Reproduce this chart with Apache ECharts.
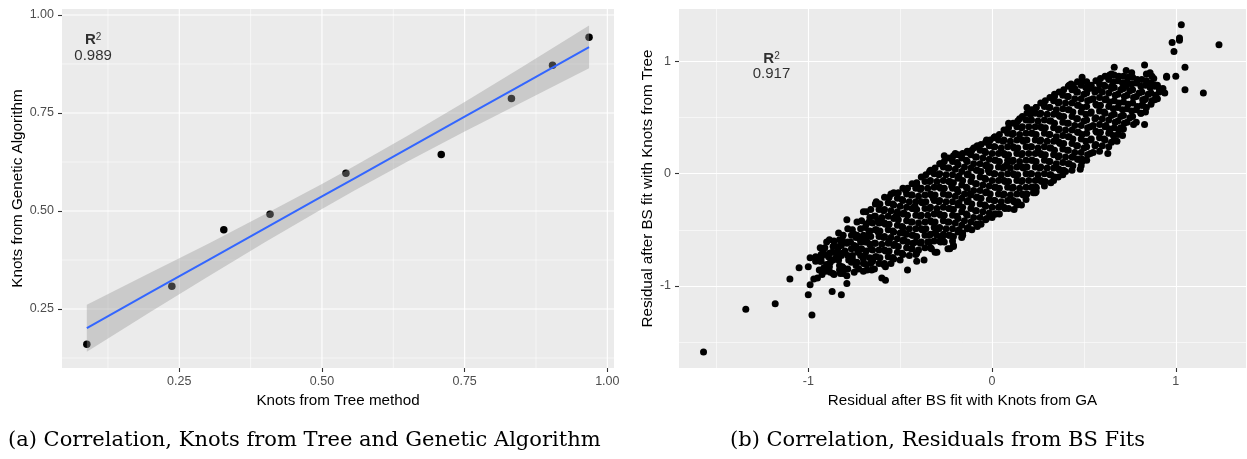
<!DOCTYPE html>
<html>
<head>
<meta charset="utf-8">
<script src="https://cdn.jsdelivr.net/npm/echarts@6/dist/echarts.min.js"></script>
<style>
  html, body { margin: 0; padding: 0; background: #ffffff; }
  #chart { width: 1247px; height: 459px; }
</style>
</head>
<body>
<div id="chart"></div>
<script>
// ---- Panel (a): knot positions, tree method vs genetic algorithm ----
const knotsTree = [0.088, 0.237, 0.328, 0.409, 0.542, 0.709, 0.832, 0.904, 0.968];
const knotsGA   = [0.160, 0.308, 0.452, 0.492, 0.596, 0.644, 0.787, 0.872, 0.943];

// linear fit with its 95% confidence band
const fitX     = [0.088, 0.20, 0.30, 0.40, 0.50, 0.557, 0.65, 0.75, 0.85, 0.968];
const fitY     = [0.2015, 0.2928, 0.3742, 0.4556, 0.537, 0.5834, 0.6591, 0.7405, 0.8219, 0.918];
const fitLower = [0.141, 0.243, 0.332, 0.420, 0.505, 0.552, 0.626, 0.703, 0.777, 0.864];
const fitUpper = [0.261, 0.343, 0.416, 0.492, 0.569, 0.615, 0.692, 0.778, 0.867, 0.973];

const r2Labels = ['0.989', '0.917'];

// tick / grid values
const knotMajor  = [0.25, 0.50, 0.75, 1.00];
const knotMinor  = [0.125, 0.375, 0.625, 0.875];
const residMajor = [-1, 0, 1];
const residMinor = [-1.5, -0.5, 0.5];

// ---- Panel (b): residuals after B-spline fits ----
const residTail = [
  [-1.57,-1.59],[-1.34,-1.21],[-1.18,-1.16],[-0.98,-1.26],[-1.10,-0.94],[-1.00,-1.08],[-0.99,-0.99],
  [-0.97,-0.94],[-1.05,-0.84],[-1.00,-0.83],[-0.99,-0.75],[-0.96,-0.74],[-0.93,-0.75],[-0.93,-0.78],
  [-0.90,-0.61],[-0.905,-0.87],[-0.87,-1.05],[-0.82,-1.08],[-0.88,-0.79],[-0.87,-0.70],[-0.86,-0.64],
  [-0.83,-0.59],[-0.82,-0.64],[-0.79,-0.41],[-0.83,-0.86],[-0.81,-0.89],[-0.79,-0.98],[-0.76,-0.73],
  [-0.75,-0.54],[-0.74,-0.65],[-0.70,-0.34],[-0.70,-0.76],[-0.69,-0.61],[-0.70,-0.87],[-0.66,-0.67],
  [-0.655,-0.86],[-0.65,-0.78],[-0.63,-0.26],[-0.60,-0.93],[-0.58,-0.95],[-0.58,-0.83],[-0.54,-0.75],
  [-0.56,-0.60],[-0.62,-0.52],[-0.59,-0.44],[-0.67,-0.52],[-0.67,-0.43],[-0.46,-0.86],[-0.41,-0.78],
  [-0.37,-0.77],[-0.52,-0.37],[-0.48,-0.53],[-0.43,-0.62],[-0.41,-0.71],[-0.34,-0.61],[-0.31,-0.53],
  [-0.24,-0.67],[-0.30,-0.70],[-0.23,-0.67],[-0.21,-0.64],[-0.16,-0.55],[-0.11,-0.50],[-0.08,-0.47],
  [-0.06,-0.45],[0.00,-0.39],[0.04,-0.36],[0.09,-0.31],[0.12,-0.32],[0.16,-0.28],[0.225,-0.17],
  [0.24,-0.12],[0.32,-0.08],[0.36,-0.03],[0.40,0.02],[0.48,0.04],[0.49,0.13],[0.44,0.15],[0.63,0.18],
  [0.68,0.29],[0.70,0.41],[0.64,0.38],[0.81,0.54],[0.83,0.44],[0.24,-0.16],[-0.21,-0.65],[-0.27,-0.57],
  [-0.31,-0.70]
];
const residUpper = [
  [-0.63,-0.25],[-0.55,-0.18],[-0.47,-0.15],[-0.41,-0.10],[-0.34,0.02],[-0.28,0.09],[-0.20,0.18],
  [-0.13,0.19],[-0.08,0.25],[0.01,0.32],[-0.03,0.30],[-0.10,0.23],[-0.26,0.16],[0.09,0.45],[0.15,0.49],
  [0.21,0.53],[0.19,0.59],[0.24,0.59],[0.34,0.71],[0.42,0.79],[0.43,0.80],[0.45,0.76],[0.49,0.86],
  [0.53,0.76],[0.56,0.75],[0.58,0.75],[0.65,0.89],[0.665,0.95],[0.65,0.78],[0.71,0.76],[0.73,0.92],
  [0.73,0.78],[0.76,0.90],[0.79,0.83],[0.83,0.97],[0.84,0.89],[0.86,0.90],[0.87,0.87],[0.88,0.85],
  [0.90,0.79],[0.91,0.76],[0.93,0.76],[0.94,0.72],[0.89,0.70],[0.95,0.86],[0.95,0.87],[1.00,0.87],
  [1.05,0.95],[1.05,0.75],[1.15,0.72],[1.235,1.15],[1.03,1.33],[1.02,1.21],[1.02,1.19],[0.98,1.17],
  [0.99,1.09],[0.83,0.66],[0.82,0.61]
];
const residCore = [
  [-0.96,-0.78],[-0.94,-0.86],[-0.95,-0.93],[-0.93,-0.72],
  [-0.91,-0.66],[-0.89,-0.74],[-0.90,-0.81],[-0.88,-0.88],[-0.92,-0.70],
  [-0.86,-0.60],[-0.84,-0.67],[-0.85,-0.75],[-0.83,-0.82],[-0.86,-0.90],[-0.84,-0.71],
  [-0.81,-0.55],[-0.79,-0.62],[-0.80,-0.69],[-0.78,-0.77],[-0.81,-0.84],[-0.79,-0.91],[-0.82,-0.73],
  [-0.76,-0.50],[-0.74,-0.57],[-0.75,-0.64],[-0.73,-0.70],[-0.76,-0.76],[-0.74,-0.82],[-0.75,-0.88],[-0.77,-0.61],
  [-0.71,-0.42],[-0.69,-0.48],[-0.70,-0.55],[-0.68,-0.61],[-0.71,-0.67],[-0.69,-0.73],[-0.70,-0.80],[-0.68,-0.86],[-0.72,-0.58],
  [-0.66,-0.32],[-0.64,-0.38],[-0.65,-0.44],[-0.63,-0.50],[-0.66,-0.56],[-0.64,-0.62],[-0.65,-0.68],[-0.63,-0.74],[-0.66,-0.80],[-0.64,-0.85],
  [-0.61,-0.27],[-0.59,-0.33],[-0.60,-0.39],[-0.58,-0.45],[-0.61,-0.51],[-0.59,-0.57],[-0.60,-0.63],[-0.58,-0.69],[-0.61,-0.75],[-0.59,-0.81],[-0.62,-0.42],
  [-0.56,-0.21],[-0.54,-0.27],[-0.55,-0.33],[-0.53,-0.39],[-0.56,-0.45],[-0.54,-0.51],[-0.55,-0.57],[-0.53,-0.63],[-0.56,-0.69],[-0.54,-0.75],[-0.55,-0.80],
  [-0.51,-0.17],[-0.49,-0.23],[-0.50,-0.29],[-0.48,-0.35],[-0.51,-0.41],[-0.49,-0.47],[-0.50,-0.53],[-0.48,-0.59],[-0.51,-0.65],[-0.49,-0.71],[-0.50,-0.77],[-0.52,-0.38],
  [-0.46,-0.13],[-0.44,-0.19],[-0.45,-0.25],[-0.43,-0.31],[-0.46,-0.37],[-0.44,-0.43],[-0.45,-0.49],[-0.43,-0.55],[-0.46,-0.61],[-0.44,-0.67],[-0.45,-0.73],
  [-0.41,-0.08],[-0.39,-0.14],[-0.40,-0.20],[-0.38,-0.26],[-0.41,-0.32],[-0.39,-0.38],[-0.40,-0.44],[-0.38,-0.50],[-0.41,-0.56],[-0.39,-0.62],[-0.40,-0.68],[-0.42,-0.29],
  [-0.36,-0.01],[-0.34,-0.07],[-0.35,-0.13],[-0.33,-0.19],[-0.36,-0.25],[-0.34,-0.31],[-0.35,-0.37],[-0.33,-0.43],[-0.36,-0.49],[-0.34,-0.55],[-0.35,-0.61],[-0.33,-0.67],
  [-0.31,0.05],[-0.29,-0.01],[-0.30,-0.07],[-0.28,-0.13],[-0.31,-0.19],[-0.29,-0.25],[-0.30,-0.31],[-0.28,-0.37],[-0.31,-0.43],[-0.29,-0.49],[-0.30,-0.55],[-0.28,-0.61],[-0.32,-0.22],
  [-0.26,0.11],[-0.24,0.05],[-0.25,-0.01],[-0.23,-0.07],[-0.26,-0.13],[-0.24,-0.19],[-0.25,-0.25],[-0.23,-0.31],[-0.26,-0.37],[-0.24,-0.43],[-0.25,-0.49],[-0.23,-0.55],[-0.26,-0.61],
  [-0.21,0.16],[-0.19,0.10],[-0.20,0.04],[-0.18,-0.02],[-0.21,-0.08],[-0.19,-0.14],[-0.20,-0.20],[-0.18,-0.26],[-0.21,-0.32],[-0.19,-0.38],[-0.20,-0.44],[-0.18,-0.50],[-0.21,-0.56],[-0.22,-0.11],
  [-0.16,0.18],[-0.14,0.12],[-0.15,0.06],[-0.13,0.00],[-0.16,-0.06],[-0.14,-0.12],[-0.15,-0.18],[-0.13,-0.24],[-0.16,-0.30],[-0.14,-0.36],[-0.15,-0.42],[-0.13,-0.48],[-0.16,-0.53],
  [-0.11,0.21],[-0.09,0.15],[-0.10,0.09],[-0.08,0.03],[-0.11,-0.03],[-0.09,-0.09],[-0.10,-0.15],[-0.08,-0.21],[-0.11,-0.27],[-0.09,-0.33],[-0.10,-0.39],[-0.08,-0.45],[-0.12,-0.18],
  [-0.06,0.26],[-0.04,0.20],[-0.05,0.14],[-0.03,0.08],[-0.06,0.02],[-0.04,-0.04],[-0.05,-0.10],[-0.03,-0.16],[-0.06,-0.22],[-0.04,-0.28],[-0.05,-0.34],[-0.03,-0.40],
  [-0.01,0.30],[0.01,0.24],[0.00,0.18],[0.02,0.12],[-0.01,0.06],[0.01,0.00],[0.00,-0.06],[0.02,-0.12],[-0.01,-0.18],[0.01,-0.24],[0.00,-0.30],[0.02,-0.36],[-0.02,0.03],
  [0.04,0.35],[0.06,0.29],[0.05,0.23],[0.07,0.17],[0.04,0.11],[0.06,0.05],[0.05,-0.01],[0.07,-0.07],[0.04,-0.13],[0.06,-0.19],[0.05,-0.25],[0.07,-0.31],
  [0.09,0.41],[0.11,0.35],[0.10,0.29],[0.12,0.23],[0.09,0.17],[0.11,0.11],[0.10,0.05],[0.12,-0.01],[0.09,-0.07],[0.11,-0.13],[0.10,-0.19],[0.12,-0.25],[0.08,0.08],
  [0.14,0.47],[0.16,0.41],[0.15,0.35],[0.17,0.29],[0.14,0.23],[0.16,0.17],[0.15,0.11],[0.17,0.05],[0.14,-0.01],[0.16,-0.07],[0.15,-0.13],[0.17,-0.19],[0.14,-0.25],
  [0.19,0.54],[0.21,0.48],[0.20,0.42],[0.22,0.36],[0.19,0.30],[0.21,0.24],[0.20,0.18],[0.22,0.12],[0.19,0.06],[0.21,0.00],[0.20,-0.06],[0.22,-0.12],[0.19,-0.18],
  [0.24,0.59],[0.26,0.53],[0.25,0.47],[0.27,0.41],[0.24,0.35],[0.26,0.29],[0.25,0.23],[0.27,0.17],[0.24,0.11],[0.26,0.05],[0.25,-0.01],[0.27,-0.07],[0.24,-0.13],
  [0.29,0.65],[0.31,0.59],[0.30,0.53],[0.32,0.47],[0.29,0.41],[0.31,0.35],[0.30,0.29],[0.32,0.23],[0.29,0.17],[0.31,0.11],[0.30,0.05],[0.32,-0.01],[0.29,-0.07],
  [0.34,0.69],[0.36,0.63],[0.35,0.57],[0.37,0.51],[0.34,0.45],[0.36,0.39],[0.35,0.33],[0.37,0.27],[0.34,0.21],[0.36,0.15],[0.35,0.09],[0.37,0.03],[0.34,-0.03],
  [0.39,0.75],[0.41,0.69],[0.40,0.63],[0.42,0.57],[0.39,0.51],[0.41,0.45],[0.40,0.39],[0.42,0.33],[0.39,0.27],[0.41,0.21],[0.40,0.15],[0.42,0.09],[0.39,0.03],
  [0.44,0.79],[0.46,0.73],[0.45,0.67],[0.47,0.61],[0.44,0.55],[0.46,0.49],[0.45,0.43],[0.47,0.37],[0.44,0.31],[0.46,0.25],[0.45,0.19],[0.47,0.13],[0.44,0.07],
  [0.49,0.83],[0.51,0.77],[0.50,0.71],[0.52,0.65],[0.49,0.59],[0.51,0.53],[0.50,0.47],[0.52,0.41],[0.49,0.35],[0.51,0.29],[0.50,0.23],[0.52,0.17],[0.49,0.11],
  [0.54,0.79],[0.56,0.73],[0.55,0.67],[0.57,0.61],[0.54,0.55],[0.56,0.49],[0.55,0.43],[0.57,0.37],[0.54,0.31],[0.56,0.25],[0.55,0.19],
  [0.59,0.85],[0.61,0.79],[0.60,0.73],[0.62,0.67],[0.59,0.61],[0.61,0.55],[0.60,0.49],[0.62,0.43],[0.59,0.37],[0.61,0.31],[0.60,0.25],
  [0.64,0.88],[0.66,0.82],[0.65,0.76],[0.67,0.70],[0.64,0.64],[0.66,0.58],[0.65,0.52],[0.67,0.46],[0.64,0.40],[0.66,0.34],[0.65,0.28],
  [0.69,0.87],[0.71,0.81],[0.70,0.75],[0.72,0.69],[0.69,0.63],[0.71,0.57],[0.70,0.51],[0.72,0.45],[0.69,0.39],[0.71,0.34],
  [0.74,0.86],[0.76,0.80],[0.75,0.74],[0.77,0.68],[0.74,0.62],[0.76,0.56],[0.75,0.50],[0.77,0.44],
  [0.79,0.84],[0.81,0.78],[0.80,0.72],[0.82,0.66],[0.79,0.60],[0.81,0.54],
  [0.84,0.83],[0.86,0.77],[0.85,0.71],[0.87,0.65],[0.84,0.59],
  [0.89,0.79],[0.91,0.73],[0.90,0.67]
];
// second layer of the dense centre, sitting between the points above
const residCoreB = [
  [-0.935,-0.66],[-0.915,-0.72],[-0.935,-0.78],[-0.915,-0.84],[-0.925,-0.90],
  [-0.885,-0.59],[-0.865,-0.65],[-0.885,-0.71],[-0.865,-0.77],[-0.885,-0.83],[-0.865,-0.89],
  [-0.835,-0.53],[-0.815,-0.59],[-0.835,-0.65],[-0.815,-0.71],[-0.835,-0.77],[-0.815,-0.83],[-0.825,-0.89],
  [-0.785,-0.49],[-0.765,-0.55],[-0.785,-0.61],[-0.765,-0.67],[-0.785,-0.73],[-0.765,-0.79],[-0.785,-0.85],
  [-0.735,-0.43],[-0.715,-0.49],[-0.735,-0.55],[-0.715,-0.61],[-0.735,-0.67],[-0.715,-0.73],[-0.735,-0.79],[-0.725,-0.85],
  [-0.685,-0.34],[-0.665,-0.39],[-0.685,-0.45],[-0.665,-0.51],[-0.685,-0.57],[-0.665,-0.63],[-0.685,-0.69],[-0.665,-0.75],[-0.685,-0.81],
  [-0.635,-0.27],[-0.615,-0.32],[-0.635,-0.38],[-0.615,-0.44],[-0.635,-0.50],[-0.615,-0.56],[-0.635,-0.62],[-0.615,-0.68],[-0.635,-0.74],[-0.615,-0.80],
  [-0.585,-0.21],[-0.565,-0.26],[-0.585,-0.32],[-0.565,-0.38],[-0.585,-0.44],[-0.565,-0.50],[-0.585,-0.56],[-0.565,-0.62],[-0.585,-0.68],[-0.565,-0.74],[-0.585,-0.80],
  [-0.535,-0.17],[-0.515,-0.22],[-0.535,-0.28],[-0.515,-0.34],[-0.535,-0.40],[-0.515,-0.46],[-0.535,-0.52],[-0.515,-0.58],[-0.535,-0.64],[-0.515,-0.70],[-0.535,-0.76],
  [-0.485,-0.13],[-0.465,-0.18],[-0.485,-0.24],[-0.465,-0.30],[-0.485,-0.36],[-0.465,-0.42],[-0.485,-0.48],[-0.465,-0.54],[-0.485,-0.60],[-0.465,-0.66],[-0.485,-0.72],
  [-0.435,-0.09],[-0.415,-0.13],[-0.435,-0.19],[-0.415,-0.25],[-0.435,-0.31],[-0.415,-0.37],[-0.435,-0.43],[-0.415,-0.49],[-0.435,-0.55],[-0.415,-0.61],[-0.435,-0.67],[-0.415,-0.72],
  [-0.385,-0.03],[-0.365,-0.07],[-0.385,-0.13],[-0.365,-0.19],[-0.385,-0.25],[-0.365,-0.31],[-0.385,-0.37],[-0.365,-0.43],[-0.385,-0.49],[-0.365,-0.55],[-0.385,-0.61],[-0.365,-0.66],
  [-0.335,0.03],[-0.315,0.00],[-0.335,-0.06],[-0.315,-0.12],[-0.335,-0.18],[-0.315,-0.24],[-0.335,-0.30],[-0.315,-0.36],[-0.335,-0.42],[-0.315,-0.48],[-0.335,-0.54],[-0.315,-0.60],[-0.335,-0.66],
  [-0.285,0.09],[-0.265,0.06],[-0.285,0.00],[-0.265,-0.06],[-0.285,-0.12],[-0.265,-0.18],[-0.285,-0.24],[-0.265,-0.30],[-0.285,-0.36],[-0.265,-0.42],[-0.285,-0.48],[-0.265,-0.54],[-0.285,-0.60],
  [-0.235,0.14],[-0.215,0.11],[-0.235,0.05],[-0.215,-0.01],[-0.235,-0.07],[-0.215,-0.13],[-0.235,-0.19],[-0.215,-0.25],[-0.235,-0.31],[-0.215,-0.37],[-0.235,-0.43],[-0.215,-0.49],[-0.235,-0.55],[-0.215,-0.60],
  [-0.185,0.17],[-0.165,0.14],[-0.185,0.08],[-0.165,0.02],[-0.185,-0.04],[-0.165,-0.10],[-0.185,-0.16],[-0.165,-0.22],[-0.185,-0.28],[-0.165,-0.34],[-0.185,-0.40],[-0.165,-0.46],[-0.185,-0.52],[-0.165,-0.57],
  [-0.135,0.20],[-0.115,0.17],[-0.135,0.11],[-0.115,0.05],[-0.135,-0.01],[-0.115,-0.07],[-0.135,-0.13],[-0.115,-0.19],[-0.135,-0.25],[-0.115,-0.31],[-0.135,-0.37],[-0.115,-0.43],[-0.135,-0.49],
  [-0.085,0.24],[-0.065,0.21],[-0.085,0.15],[-0.065,0.09],[-0.085,0.03],[-0.065,-0.03],[-0.085,-0.09],[-0.065,-0.15],[-0.085,-0.21],[-0.065,-0.27],[-0.085,-0.33],[-0.065,-0.39],[-0.085,-0.45],
  [-0.035,0.28],[-0.015,0.25],[-0.035,0.19],[-0.015,0.13],[-0.035,0.07],[-0.015,0.01],[-0.035,-0.05],[-0.015,-0.11],[-0.035,-0.17],[-0.015,-0.23],[-0.035,-0.29],[-0.015,-0.35],[-0.035,-0.41],
  [0.015,0.33],[0.035,0.30],[0.015,0.24],[0.035,0.18],[0.015,0.12],[0.035,0.06],[0.015,0.00],[0.035,-0.06],[0.015,-0.12],[0.035,-0.18],[0.015,-0.24],[0.035,-0.30],[0.015,-0.36],
  [0.065,0.39],[0.085,0.36],[0.065,0.30],[0.085,0.24],[0.065,0.18],[0.085,0.12],[0.065,0.06],[0.085,0.00],[0.065,-0.06],[0.085,-0.12],[0.065,-0.18],[0.085,-0.24],[0.065,-0.30],
  [0.115,0.45],[0.135,0.42],[0.115,0.36],[0.135,0.30],[0.115,0.24],[0.135,0.18],[0.115,0.12],[0.135,0.06],[0.115,0.00],[0.135,-0.06],[0.115,-0.12],[0.135,-0.18],[0.115,-0.24],[0.135,-0.28],
  [0.165,0.51],[0.185,0.48],[0.165,0.42],[0.185,0.36],[0.165,0.30],[0.185,0.24],[0.165,0.18],[0.185,0.12],[0.165,0.06],[0.185,0.00],[0.165,-0.06],[0.185,-0.12],[0.165,-0.18],[0.185,-0.23],
  [0.215,0.57],[0.235,0.54],[0.215,0.48],[0.235,0.42],[0.215,0.36],[0.235,0.30],[0.215,0.24],[0.235,0.18],[0.215,0.12],[0.235,0.06],[0.215,0.00],[0.235,-0.06],[0.215,-0.12],[0.235,-0.17],
  [0.265,0.63],[0.285,0.60],[0.265,0.54],[0.285,0.48],[0.265,0.42],[0.285,0.36],[0.265,0.30],[0.285,0.24],[0.265,0.18],[0.285,0.12],[0.265,0.06],[0.285,0.00],[0.265,-0.06],[0.285,-0.11],
  [0.315,0.68],[0.335,0.65],[0.315,0.59],[0.335,0.53],[0.315,0.47],[0.335,0.41],[0.315,0.35],[0.335,0.29],[0.315,0.23],[0.335,0.17],[0.315,0.11],[0.335,0.05],[0.315,-0.01],[0.335,-0.06],
  [0.365,0.73],[0.385,0.70],[0.365,0.64],[0.385,0.58],[0.365,0.52],[0.385,0.46],[0.365,0.40],[0.385,0.34],[0.365,0.28],[0.385,0.22],[0.365,0.16],[0.385,0.10],[0.365,0.04],[0.385,-0.01],
  [0.415,0.78],[0.435,0.75],[0.415,0.69],[0.435,0.63],[0.415,0.57],[0.435,0.51],[0.415,0.45],[0.435,0.39],[0.415,0.33],[0.435,0.27],[0.415,0.21],[0.435,0.15],[0.415,0.09],[0.435,0.03],
  [0.465,0.82],[0.485,0.79],[0.465,0.73],[0.485,0.67],[0.465,0.61],[0.485,0.55],[0.465,0.49],[0.485,0.43],[0.465,0.37],[0.485,0.31],[0.465,0.25],[0.485,0.19],[0.465,0.13],[0.485,0.07],
  [0.515,0.82],[0.535,0.78],[0.515,0.72],[0.535,0.66],[0.515,0.60],[0.535,0.54],[0.515,0.48],[0.535,0.42],[0.515,0.36],[0.535,0.30],[0.515,0.24],[0.535,0.18],[0.515,0.12],
  [0.565,0.83],[0.585,0.80],[0.565,0.74],[0.585,0.68],[0.565,0.62],[0.585,0.56],[0.565,0.50],[0.585,0.44],[0.565,0.38],[0.585,0.32],[0.565,0.26],[0.585,0.20],
  [0.615,0.87],[0.635,0.84],[0.615,0.78],[0.635,0.72],[0.615,0.66],[0.635,0.60],[0.615,0.54],[0.635,0.48],[0.615,0.42],[0.635,0.36],[0.615,0.30],[0.635,0.24],
  [0.665,0.88],[0.685,0.83],[0.665,0.77],[0.685,0.71],[0.665,0.65],[0.685,0.59],[0.665,0.53],[0.685,0.47],[0.665,0.41],[0.685,0.35],[0.665,0.30],
  [0.715,0.87],[0.735,0.82],[0.715,0.76],[0.735,0.70],[0.715,0.64],[0.735,0.58],[0.715,0.52],[0.735,0.46],[0.715,0.40],
  [0.765,0.86],[0.785,0.81],[0.765,0.75],[0.785,0.69],[0.765,0.63],[0.785,0.57],[0.765,0.51],[0.785,0.46],
  [0.815,0.84],[0.835,0.79],[0.815,0.73],[0.835,0.67],[0.815,0.61],[0.835,0.55],
  [0.865,0.81],[0.885,0.78],[0.865,0.72],[0.885,0.66],[0.865,0.62]
];

// ---- styling ----
const SANS = "'Liberation Sans', Arial, Helvetica, sans-serif";
const SERIF = "'DejaVu Serif', serif";
const PANEL_BG = '#EBEBEB';
const TICK_COLOR = '#333333';
const LABEL_COLOR = '#4D4D4D';

// visible data windows of both panels
const knotXRange  = [0.0445, 1.0117];
const knotYRange  = [0.0995, 1.0153];
const residXRange = [-1.7035, 1.382];
const residYRange = [-1.7335, 1.4697];

// white gridlines of panel (a), one short line series per break value
function gridLines(axisIndex, xMajor, xMinor, yMajor, yMinor, xRange, yRange) {
  const out = [];
  const add = (data, major) => out.push({
    type: 'line', xAxisIndex: axisIndex, yAxisIndex: axisIndex, z: 1, silent: true,
    symbol: 'none', showSymbol: false, clip: false, animation: false,
    lineStyle: { color: '#FFFFFF', width: major ? 1.1 : 0.55 },
    data: data
  });
  xMinor.forEach(v => add([[v, yRange[0]], [v, yRange[1]]], false));
  yMinor.forEach(v => add([[xRange[0], v], [xRange[1], v]], false));
  xMajor.forEach(v => add([[v, yRange[0]], [v, yRange[1]]], true));
  yMajor.forEach(v => add([[xRange[0], v], [xRange[1], v]], true));
  return out;
}

function renderBand(params, api) {
  if (params.dataIndex !== 0) return null;
  const pts = [];
  for (let i = 0; i < fitX.length; i++) pts.push(api.coord([fitX[i], fitUpper[i]]));
  for (let i = fitX.length - 1; i >= 0; i--) pts.push(api.coord([fitX[i], fitLower[i]]));
  return {
    type: 'polygon',
    shape: { points: pts },
    style: { fill: 'rgba(153,153,153,0.4)' }
  };
}

function valueAxis(gridIndex, range, ticks, fmt, name, nameGap, isY, splitWidth) {
  return {
    type: 'value',
    gridIndex: gridIndex,
    min: range[0],
    max: range[1],
    axisLine: { show: false, onZero: false },
    axisTick: { show: true, length: 4, lineStyle: { color: TICK_COLOR, width: 1.1 }, customValues: ticks },
    axisLabel: {
      customValues: ticks,
      formatter: fmt,
      color: LABEL_COLOR,
      fontFamily: SANS,
      fontSize: 12.5,
      margin: isY ? 8 : 7
    },
    splitLine: splitWidth ? { show: true, lineStyle: { color: '#FFFFFF', width: splitWidth } } : { show: false },
    minorSplitLine: { show: false },
    name: name,
    nameLocation: 'middle',
    nameGap: nameGap,
    nameTextStyle: { color: '#000000', fontFamily: SANS, fontSize: 15.2 }
  };
}

// axis that only carries the minor gridlines of panel (b)
function minorGridAxis(gridIndex, range, values) {
  return {
    type: 'value',
    gridIndex: gridIndex,
    min: range[0],
    max: range[1],
    axisLine: { show: false, onZero: false },
    axisTick: { show: false, customValues: values },
    axisLabel: { show: false, customValues: values },
    splitLine: { show: true, lineStyle: { color: '#FFFFFF', width: 0.55 } },
    minorSplitLine: { show: false }
  };
}

const knotFmt = v => Number(v).toFixed(2);
const residFmt = v => String(Math.round(v));

function r2Label(value) {
  return {
    show: true,
    position: 'inside',
    formatter: '{r|R}{s|2}\n{v|' + value + '}',
    rich: {
      r: { fontFamily: SANS, fontWeight: 'bold', fontSize: 15, lineHeight: 15, color: '#000' },
      s: { fontFamily: SANS, fontSize: 10, lineHeight: 15, verticalAlign: 'top', color: '#000' },
      v: { fontFamily: SANS, fontSize: 15, lineHeight: 16, color: '#000' }
    }
  };
}

const chart = echarts.init(document.getElementById('chart'), null, { renderer: 'canvas' });

const captionStyle = { fontFamily: SERIF, fontSize: 21, fontWeight: 'normal', color: '#000' };

const option = {
  animation: false,
  backgroundColor: '#FFFFFF',
  title: [
    { text: '(a) Correlation, Knots from Tree and Genetic Algorithm', left: 8, top: 430, padding: 0, textStyle: captionStyle },
    { text: '(b) Correlation, Residuals from BS Fits', left: 730, top: 430, padding: 0, textStyle: captionStyle }
  ],
  grid: [
    { left: 62, top: 9, width: 552, height: 359, show: true, backgroundColor: PANEL_BG, borderWidth: 0, containLabel: false, outerBoundsMode: 'none' },
    { left: 679, top: 9, width: 567, height: 359, show: true, backgroundColor: PANEL_BG, borderWidth: 0, containLabel: false, outerBoundsMode: 'none' }
  ],
  xAxis: [
    valueAxis(0, knotXRange, knotMajor, knotFmt, 'Knots from Tree method', 21, false, 0),
    valueAxis(1, residXRange, residMajor, residFmt, 'Residual after BS fit with Knots from GA', 21, false, 1.1),
    minorGridAxis(1, residXRange, residMinor)
  ],
  yAxis: [
    valueAxis(0, knotYRange, knotMajor, knotFmt, 'Knots from Genetic Algorithm', 36, true, 0),
    valueAxis(1, residYRange, residMajor, residFmt, 'Residual after BS fit with Knots from Tree', 24, true, 1.1),
    minorGridAxis(1, residYRange, residMinor)
  ],
  series: [].concat(
    gridLines(0, knotMajor, knotMinor, knotMajor, knotMinor, knotXRange, knotYRange),
    [
      // panel (a) points
      {
        type: 'scatter', xAxisIndex: 0, yAxisIndex: 0, z: 2,
        symbol: 'circle', symbolSize: 7.5,
        itemStyle: { color: '#000000', opacity: 1 },
        data: knotsTree.map((x, i) => [x, knotsGA[i]])
      },
      // confidence band
      {
        type: 'custom', xAxisIndex: 0, yAxisIndex: 0, z: 3, silent: true,
        renderItem: renderBand,
        data: fitX.map((x, i) => [x, fitLower[i], fitUpper[i]]),
        encode: { x: 0, y: 1 }
      },
      // fitted line
      {
        type: 'line', xAxisIndex: 0, yAxisIndex: 0, z: 4,
        showSymbol: false, symbol: 'none', smooth: false,
        lineStyle: { color: '#3366FF', width: 2 },
        data: fitX.map((x, i) => [x, fitY[i]])
      },
      // R^2 annotation, panel (a)
      {
        type: 'scatter', xAxisIndex: 0, yAxisIndex: 0, z: 5, silent: true,
        symbolSize: 0,
        label: r2Label(r2Labels[0]),
        data: [[0.099, 0.916]]
      },
      // panel (b) points
      {
        type: 'scatter', xAxisIndex: 1, yAxisIndex: 1, z: 2,
        symbol: 'circle', symbolSize: 7, large: false,
        itemStyle: { color: '#000000', opacity: 1 },
        data: [].concat(residCore, residCoreB, residTail, residUpper)
      },
      // R^2 annotation, panel (b)
      {
        type: 'scatter', xAxisIndex: 1, yAxisIndex: 1, z: 5, silent: true,
        symbolSize: 0,
        label: r2Label(r2Labels[1]),
        data: [[-1.2, 0.955]]
      }
    ]
  )
};

chart.setOption(option);
</script>
</body>
</html>
